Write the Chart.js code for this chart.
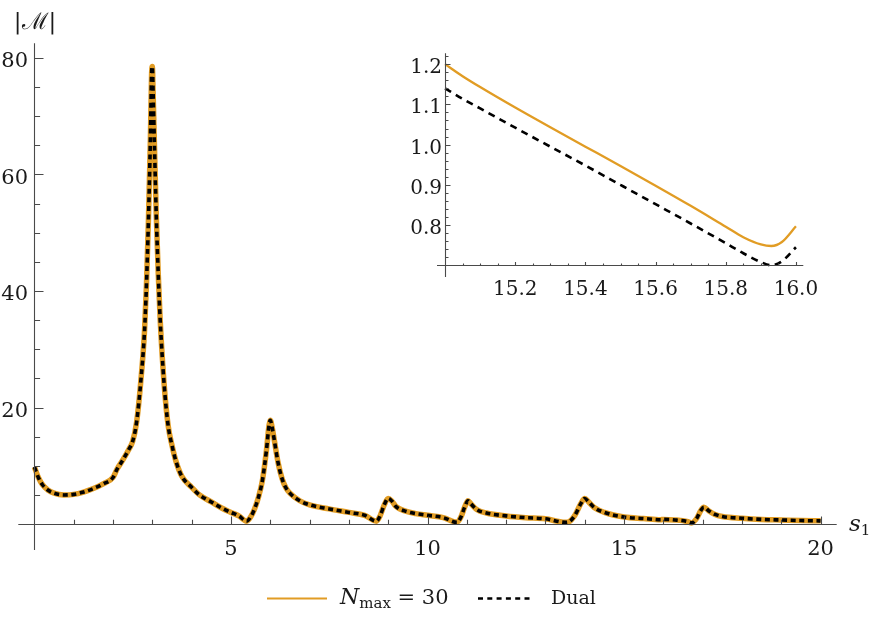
<!DOCTYPE html>
<html>
<head>
<meta charset="utf-8">
<script src="https://cdn.jsdelivr.net/npm/chart.js@4.4.0/dist/chart.umd.min.js"></script>
<style>
  html, body { margin: 0; padding: 0; background: #fff; }
  #wrap { position: relative; width: 872px; height: 620px; }
  #wrap canvas { position: absolute; left: 0; top: 0; }
</style>
</head>
<body>
<div id="wrap">
  <canvas id="mainChart" width="872" height="620"></canvas>
  <canvas id="insetChart" width="872" height="620"></canvas>
</div>
<script>
// main plot: |M| vs s1
const sVals = [0, 0.1, 0.2, 0.35, 0.5, 0.75, 1, 1.25, 1.5, 1.75, 2, 2.1, 2.25, 2.4, 2.5, 2.6, 2.7, 2.8, 2.85, 2.9, 2.95, 2.98, 3,
  3.02, 3.05, 3.1, 3.15, 3.2, 3.3, 3.4, 3.5, 3.6, 3.75, 4, 4.2, 4.5, 4.75, 5, 5.2, 5.4, 5.5, 5.6, 5.7, 5.8, 5.9, 5.97, 6,
  6.05, 6.1, 6.2, 6.3, 6.4, 6.5, 6.75, 7, 7.5, 8, 8.4, 8.7, 8.8, 8.9, 9, 9.1, 9.2, 9.4, 9.7, 10, 10.4, 10.75, 10.85, 10.95,
  11.03, 11.1, 11.25, 11.5, 12, 12.5, 13, 13.5, 13.6, 13.75, 13.9, 14, 14.1, 14.25, 14.5, 15, 15.5, 15.93, 16, 16.3, 16.6,
  16.72, 16.85, 16.95, 17.03, 17.15, 17.3, 17.5, 18, 18.5, 19, 19.5, 20];
const nmaxVals = [9.8, 8.0, 6.8, 5.8, 5.3, 5.0, 5.1, 5.5, 6.1, 6.9, 8.0, 9.4, 11.0, 12.8, 14.2, 17.5, 24, 33, 41, 52, 66, 77, 78.5,
  74, 66, 53, 43, 35, 24, 17, 13.5, 10.8, 8.2, 6.3, 5.0, 3.8, 2.8, 2.0, 1.4, 0.5, 1.2, 2.6, 4.6, 7.5, 12.5, 17.0, 17.8,
  16.5, 14.5, 10.5, 7.8, 6.2, 5.3, 4.0, 3.3, 2.6, 2.0, 1.5, 0.5, 1.5, 3.3, 4.4, 3.9, 3.0, 2.3, 1.8, 1.5, 1.1, 0.3, 1.2, 3.0,
  4.0, 3.5, 2.5, 1.9, 1.4, 1.1, 0.9, 0.3, 0.4, 1.5, 3.5, 4.4, 3.8, 2.8, 2.0, 1.2, 0.95, 0.75, 0.8, 0.7, 0.45,
  0.2, 1.0, 2.3, 2.9, 2.3, 1.7, 1.3, 1.0, 0.8, 0.7, 0.6, 0.55];
const dualVals = nmaxVals.slice();   // indistinguishable at this scale

// inset: zoom on 15 <= s1 <= 16
const insetS = [15, 15.05, 15.1, 15.2, 15.3, 15.4, 15.5, 15.6, 15.7, 15.8, 15.85, 15.9, 15.93, 15.96, 16];
const insetNmax = [1.2, 1.17, 1.143, 1.092, 1.043, 0.995, 0.947, 0.898, 0.848, 0.796, 0.770, 0.752, 0.748, 0.758, 0.797];
const insetDual = [1.14, 1.114, 1.09, 1.042, 0.995, 0.948, 0.9, 0.852, 0.804, 0.755, 0.73, 0.708, 0.700, 0.71, 0.745];

// ticks
const xMajor = [5, 10, 15, 20];
const xMinor = [1, 2, 3, 4, 6, 7, 8, 9, 11, 12, 13, 14, 16, 17, 18, 19];
const yMajor = [20, 40, 60, 80];
const yMinor = [5, 10, 15, 25, 30, 35, 45, 50, 55, 65, 70, 75];
const insetXMajor = [15.2, 15.4, 15.6, 15.8, 16.0];
const insetXLabels = ['15.2', '15.4', '15.6', '15.8', '16.0'];
const insetYMajor = [0.8, 0.9, 1.0, 1.1, 1.2];
const insetYLabels = ['0.8', '0.9', '1.0', '1.1', '1.2'];

const ORANGE = '#E19C24';
const FONT = '"DejaVu Serif", "Liberation Serif", serif';

const toPts = (xs, ys) => xs.map((x, i) => ({ x: x, y: ys[i] }));

function minorRange(a, b, step, skip) {
  const out = [];
  for (let k = Math.round(a / step); k * step <= b + 1e-9; k++) {
    const v = +(k * step).toFixed(4);
    if (!skip.some(s => Math.abs(s - v) < 1e-6)) out.push(v);
  }
  return out;
}

function richText(ctx, parts, x, y) {
  for (const p of parts) {
    ctx.font = p.f;
    ctx.fillText(p.t, x, y + (p.dy || 0));
    x += ctx.measureText(p.t).width;
  }
  return x;
}

// axes drawn through the chart's own scales, crossing at an origin like Mathematica
const axesPlugin = {
  id: 'crossAxes',
  afterDraw(chart, args, o) {
    const { ctx, chartArea: a } = chart;
    const x = chart.scales.x, y = chart.scales.y;
    const x0 = Math.round(x.getPixelForValue(o.xOrigin)) + 0.5;
    const y0 = Math.round(y.getPixelForValue(o.yOrigin)) + 0.5;
    ctx.save();
    ctx.strokeStyle = '#4a4a4a';
    ctx.lineWidth = 1.1;
    ctx.beginPath();
    ctx.moveTo(a.left, y0); ctx.lineTo(a.right, y0);
    ctx.moveTo(x0, a.top); ctx.lineTo(x0, a.bottom);
    ctx.stroke();
    ctx.beginPath();
    o.xMajor.forEach(v => { const p = Math.round(x.getPixelForValue(v)) + 0.5; ctx.moveTo(p, y0); ctx.lineTo(p, y0 - o.xTick[0]); });
    o.xMinor.forEach(v => { const p = Math.round(x.getPixelForValue(v)) + 0.5; ctx.moveTo(p, y0); ctx.lineTo(p, y0 - o.xTick[1]); });
    o.yMajor.forEach(v => { const p = Math.round(y.getPixelForValue(v)) + 0.5; ctx.moveTo(x0, p); ctx.lineTo(x0 + o.yTick[0], p); });
    o.yMinor.forEach(v => { const p = Math.round(y.getPixelForValue(v)) + 0.5; ctx.moveTo(x0, p); ctx.lineTo(x0 + o.yTick[1], p); });
    ctx.stroke();

    ctx.fillStyle = '#1a1a1a';
    ctx.font = o.font;
    ctx.textAlign = 'center';
    ctx.textBaseline = 'alphabetic';
    o.xMajor.forEach((v, i) => ctx.fillText(o.xLabels[i], x.getPixelForValue(v), o.xLabelBase));
    ctx.textAlign = 'right';
    o.yMajor.forEach((v, i) => ctx.fillText(o.yLabels[i], o.yLabelRight, y.getPixelForValue(v) + o.yLabelDy));
    ctx.restore();
  }
};

const decorPlugin = {
  id: 'decor',
  afterDraw(chart) {
    const ctx = chart.ctx;
    const ds = chart.data.datasets;
    ctx.save();
    ctx.fillStyle = '#1a1a1a';
    ctx.textBaseline = 'alphabetic';
    // y axis title
    ctx.textAlign = 'center';
    ctx.font = '23px ' + FONT;
    ctx.fillText('|\u2133|', 35, 29);
    // x axis title s_1
    ctx.textAlign = 'left';
    richText(ctx, [{ t: 's', f: 'italic 23px ' + FONT }, { t: '1', f: '15px ' + FONT, dy: 4 }], 849, 531);

    // legend
    const ly = 598.5;
    ctx.lineCap = 'butt';
    ctx.strokeStyle = ds[0].borderColor;
    ctx.lineWidth = 2.2;
    ctx.beginPath(); ctx.moveTo(267, ly); ctx.lineTo(327, ly); ctx.stroke();
    richText(ctx, [
      { t: 'N', f: 'italic 22px ' + FONT },
      { t: 'max', f: '15px ' + FONT, dy: 4 },
      { t: ' = 30', f: '21px ' + FONT }
    ], 340, 604);
    ctx.strokeStyle = ds[1].borderColor;
    ctx.lineWidth = 2.6;
    ctx.setLineDash([5, 4.3]);
    ctx.beginPath(); ctx.moveTo(478, ly); ctx.lineTo(531, ly); ctx.stroke();
    ctx.setLineDash([]);
    ctx.font = '19px ' + FONT;
    ctx.fillText(ds[1].label, 551, 604);
    ctx.restore();
  }
};

new Chart(document.getElementById('mainChart'), {
  type: 'line',
  data: {
    datasets: [
      { label: 'Nmax = 30', data: toPts(sVals, nmaxVals), borderColor: ORANGE, borderWidth: 5.5,
        pointRadius: 0, cubicInterpolationMode: 'monotone', order: 2 },
      { label: 'Dual', data: toPts(sVals, dualVals), borderColor: '#000', borderWidth: 3.6, borderDash: [5, 3.6],
        pointRadius: 0, cubicInterpolationMode: 'monotone', order: 1 }
    ]
  },
  options: {
    responsive: false,
    animation: false,
    layout: { padding: { left: 18.3, right: 35.3, top: 43.3, bottom: 70 } },
    scales: {
      x: { type: 'linear', min: -0.41, max: 20.41, display: false },
      y: { type: 'linear', min: -4.45, max: 82.5, display: false }
    },
    plugins: {
      legend: { display: false },
      tooltip: { enabled: false },
      crossAxes: {
        xOrigin: 0, yOrigin: 0,
        xMajor: xMajor, xMinor: xMinor, yMajor: yMajor, yMinor: yMinor,
        xLabels: xMajor.map(String), yLabels: yMajor.map(String),
        xTick: [8, 4.7], yTick: [9, 5.6],
        font: '21px ' + FONT, xLabelBase: 555, yLabelRight: 28, yLabelDy: 9.5
      }
    }
  },
  plugins: [axesPlugin, decorPlugin]
});

new Chart(document.getElementById('insetChart'), {
  type: 'line',
  data: {
    datasets: [
      { label: 'Nmax = 30', data: toPts(insetS, insetNmax), borderColor: ORANGE, borderWidth: 2.3,
        pointRadius: 0, cubicInterpolationMode: 'monotone', order: 2 },
      { label: 'Dual', data: toPts(insetS, insetDual), borderColor: '#000', borderWidth: 2.6, borderDash: [7, 5.5],
        pointRadius: 0, cubicInterpolationMode: 'monotone', order: 1 }
    ]
  },
  options: {
    responsive: false,
    animation: false,
    layout: { padding: { left: 437, right: 68.7, top: 53.3, bottom: 343 } },
    scales: {
      x: { type: 'linear', min: 14.977, max: 16.021, display: false },
      y: { type: 'linear', min: 0.671, max: 1.227, display: false }
    },
    plugins: {
      legend: { display: false },
      tooltip: { enabled: false },
      crossAxes: {
        xOrigin: 15, yOrigin: 0.7,
        xMajor: insetXMajor, xMinor: minorRange(15.05, 15.95, 0.05, insetXMajor),
        yMajor: insetYMajor, yMinor: minorRange(0.72, 1.22, 0.02, insetYMajor),
        xLabels: insetXLabels, yLabels: insetYLabels,
        xTick: [3.5, 2], yTick: [5, 3],
        font: '20px ' + FONT, xLabelBase: 295, yLabelRight: 442, yLabelDy: 9
      }
    }
  },
  plugins: [axesPlugin]
});
</script>
</body>
</html>
